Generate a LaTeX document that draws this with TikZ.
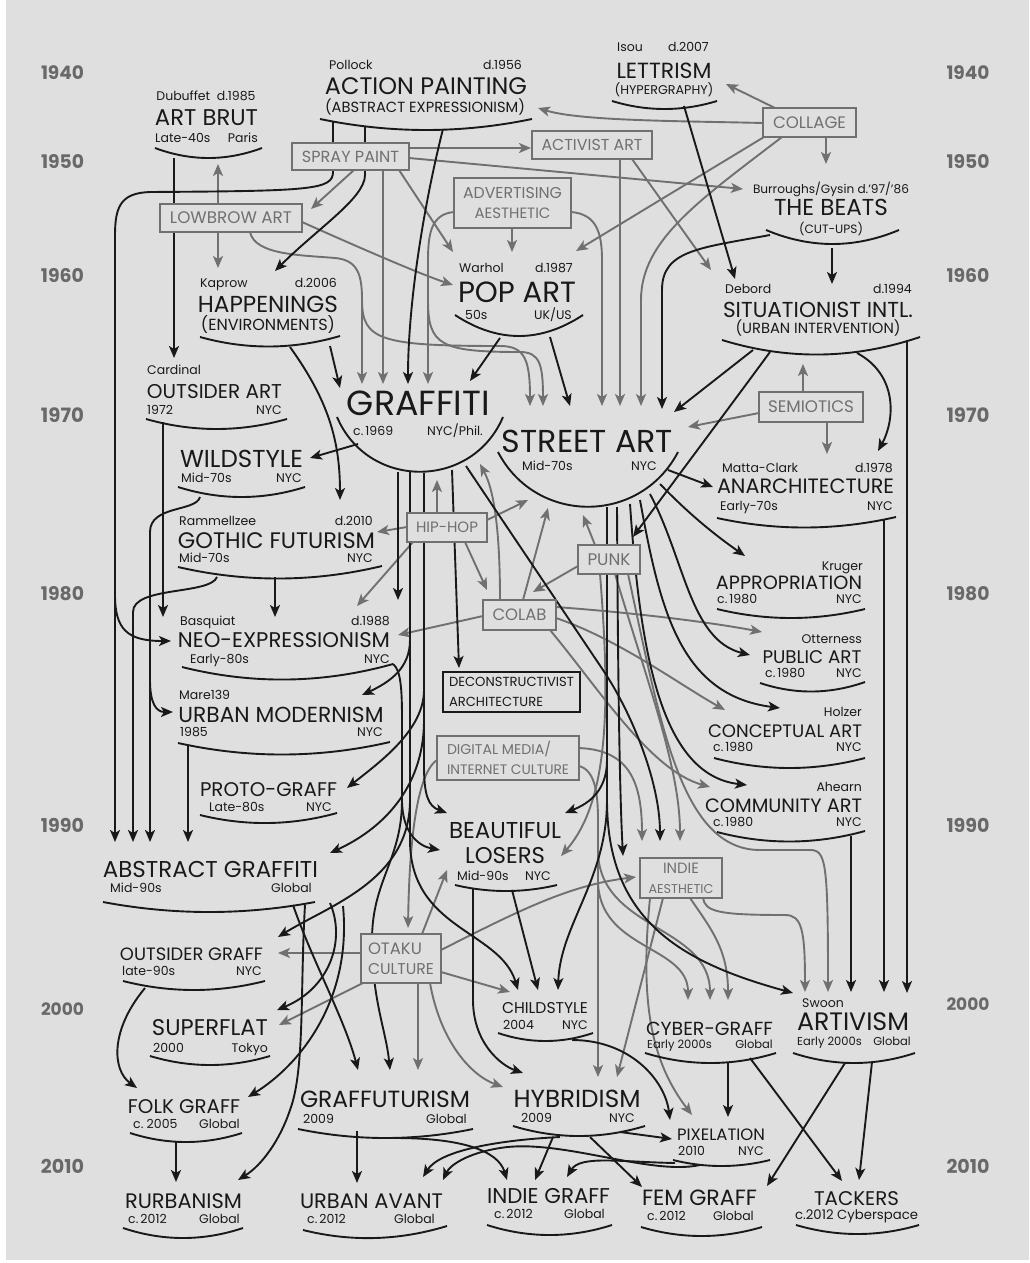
\documentclass[tikz,border=0pt]{standalone}
\usepackage{fontspec}
\setmainfont{Poppins}
\usepackage{graphicx}
\usetikzlibrary{arrows.meta}
\definecolor{bg}{RGB}{223,223,223}
\definecolor{gr}{RGB}{112,112,112}
\definecolor{ink}{RGB}{25,25,25}
\definecolor{yr}{RGB}{105,105,105}
\tikzset{
  bk/.style={draw=ink,line width=1.9pt,-{Stealth[length=12pt,width=10pt,inset=3pt]}},
  gy/.style={draw=gr,line width=1.9pt,-{Stealth[length=12pt,width=10pt,inset=3pt]}},
  arcst/.style={draw=ink,line width=1.9pt},
  smst/.style={font=\fontsize{12.5}{14}\selectfont,text=ink,inner sep=0pt},
  smsm/.style={font=\fontsize{11.5}{13}\selectfont,text=ink,inner sep=0pt},
  ttlst/.style={text=ink,inner sep=0pt,anchor=base},
  yrst/.style={text=yr,inner sep=0pt,anchor=base,font=\bfseries},
  gbox/.style={draw=gr,line width=1.9pt,fill=bg,text=gr,inner sep=0pt,font=\fontsize{10}{20}\selectfont},
  kbox/.style={draw=ink,line width=1.9pt,fill=bg,text=ink,inner sep=0pt,font=\fontsize{10}{20}\selectfont}
}
\newcommand\ttlN[5]{\node[ttlst] (#1) at (#2,#3) {\resizebox{#4pt}{!}{#5}};}
\newcommand\txL[4]{\node[smst,anchor=base west] (#1) at (#2,#3) {#4};}
\newcommand\txR[4]{\node[smst,anchor=base east] (#1) at (#2,#3) {#4};}
\newcommand\txC[4]{\node[smst,anchor=base] (#1) at (#2,#3) {#4};}
\newcommand\txS[5]{\node[smst,anchor=base] (#1) at (#2,#3) {\resizebox{#4pt}{!}{#5}};}
\newcommand\arcN[5]{\draw[arcst] (#1,#2) .. controls ({#1+(#3-#1)/3},{#2+(#4-#2)/3+4*#5/3}) and ({#1+2*(#3-#1)/3},{#2+2*(#4-#2)/3+4*#5/3}) .. (#3,#4);}
\begin{document}
\begin{tikzpicture}[x=1pt,y=-1pt]
\useasboundingbox (0,0) rectangle (1029,1263);
\fill[white] (0,0) rectangle (1029,1263);
\fill[bg] (6,0) rectangle (1029,1260);

% ---------------- years
\node[yrst] (yl1) at (62.5,79) {\resizebox{43pt}{!}{1940}};
\node[yrst] (yl2) at (62.5,168) {\resizebox{43pt}{!}{1950}};
\node[yrst] (yl3) at (62.5,282) {\resizebox{43pt}{!}{1960}};
\node[yrst] (yl4) at (62.5,422) {\resizebox{43pt}{!}{1970}};
\node[yrst] (yl5) at (62.5,600) {\resizebox{43pt}{!}{1980}};
\node[yrst] (yl6) at (62.5,832) {\resizebox{43pt}{!}{1990}};
\node[yrst] (yl7) at (62.5,1015) {\resizebox{43pt}{!}{2000}};
\node[yrst] (yl8) at (62.5,1173) {\resizebox{43pt}{!}{2010}};
\node[yrst] (yr1) at (968,79) {\resizebox{43pt}{!}{1940}};
\node[yrst] (yr2) at (968,168) {\resizebox{43pt}{!}{1950}};
\node[yrst] (yr3) at (968,282) {\resizebox{43pt}{!}{1960}};
\node[yrst] (yr4) at (968,422) {\resizebox{43pt}{!}{1970}};
\node[yrst] (yr5) at (968,600) {\resizebox{43pt}{!}{1980}};
\node[yrst] (yr6) at (968,832) {\resizebox{43pt}{!}{1990}};
\node[yrst] (yr7) at (968,1010) {\resizebox{43pt}{!}{2000}};
\node[yrst] (yr8) at (968,1173) {\resizebox{43pt}{!}{2010}};

% ---------------- gray connectors
\draw[gy] (775,108) -- (726,84);
\draw[gy] (763,123) .. controls (680,121) and (580,121) .. (538,108);
\draw[gy] (826,137) -- (826,164);
\draw[gy] (764,137) -- (576,251);
\draw[gy] (782,137) .. controls (700,200) and (641,240) .. (641,300) -- (641,406);
\draw[gy] (409,148) -- (531,148);
\draw[gy] (409,158) -- (743,189);
\draw[gy] (354,170) -- (311,209);
\draw[gy] (399,170) -- (453,252);
\draw[gy] (383,170) -- (383,384);
\draw[gy] (218,204) -- (218,164);
\draw[gy] (218,232) -- (218,268);
\draw[gy] (302,222) .. controls (360,248) and (420,274) .. (453,285);
\draw[gy] (250,232) .. controls (255,255) and (300,255) .. (335,258) .. controls (358,260) and (362,275) .. (362,300) -- (362,384);
\draw[gy] (362,300) .. controls (362,340) and (380,346) .. (500,346) .. controls (525,346) and (530,360) .. (530,406);
\draw[gy] (512,228) -- (512,252);
\draw[gy] (454,212) .. controls (432,214) and (428,232) .. (428,260) -- (428,384);
\draw[gy] (428,300) .. controls (428,345) and (440,352) .. (520,352) .. controls (540,352) and (543,365) .. (543,406);
\draw[gy] (571,212) .. controls (596,214) and (602,232) .. (602,260) -- (602,406);
\draw[gy] (620,159) -- (620,406);
\draw[gy] (632,159) -- (711,270);
\draw[gy] (803,392) -- (803,364);
\draw[gy] (827,422) -- (827,454);
\draw[gy] (759,413) -- (688,427);
\draw[gy] (437,513) -- (437,480);
\draw[gy] (487,520) -- (528,500);
\draw[gy] (407,527) -- (377,532);
\draw[gy] (413,542) -- (357,606);
\draw[gy] (465,542) -- (487,590);
\draw[gy] (500,600) .. controls (500,530) and (494,490) .. (480,464);
\draw[gy] (523,600) -- (548,508);
\draw[gy] (578,566) -- (533,592);
\draw[gy] (595,545) -- (583,515);
\draw[gy] (483,616) -- (398,635);
\draw[gy] (556,607) .. controls (650,614) and (720,624) .. (762,632);
\draw[gy] (556,618) .. controls (620,640) and (680,685) .. (725,710);
\draw[gy] (550,630) .. controls (600,690) and (650,770) .. (710,787);
\draw[gy] (437,760) .. controls (425,768) and (410,800) .. (408,928);
\draw[gy] (579,748) .. controls (628,750) and (642,780) .. (642,841);
\draw[gy] (579,766) .. controls (594,770) and (598,790) .. (598,820) -- (598,1077);
\draw[gy] (598,880) .. controls (598,950) and (688,945) .. (688,1000);
\draw[gy] (598,850) .. controls (598,930) and (710,925) .. (710,1000);
\draw[gy] (600,574) .. controls (610,700) and (610,800) .. (561,856);
\draw[gy] (615,574) .. controls (650,690) and (680,770) .. (680,841);
\draw[gy] (628,574) .. controls (660,720) and (680,850) .. (760,850) -- (810,850) .. controls (826,850) and (828,862) .. (828,992);
\draw[gy] (361,953) -- (278,953);
\draw[gy] (363,983) -- (279,1025);
\draw[gy] (418,983) -- (418,1070);
\draw[gy] (430,983) .. controls (440,1040) and (470,1075) .. (503,1087);
\draw[gy] (441,972) -- (510,992);
\draw[gy] (422,934) -- (447,870);
\draw[gy] (441,950) .. controls (520,910) and (570,885) .. (636,877);
\draw[gy] (663,898) -- (617,1077);
\draw[gy] (690,898) .. controls (712,930) and (728,950) .. (728,1000);
\draw[gy] (703,898) .. controls (705,912) and (720,915) .. (785,915) .. controls (802,915) and (805,930) .. (805,992);
\draw[gy] (650,898) .. controls (640,1000) and (650,1060) .. (692,1115);

% ---------------- black connectors
\draw[bk] (174,158) -- (174,358);
\draw[bk] (333,122) -- (333,172) .. controls (333,190) and (310,191) .. (150,192) .. controls (122,193) and (115,205) .. (115,235) -- (115,595) .. controls (115,630) and (128,641) .. (171,641);
\draw[bk] (115,590) -- (115,842);
\draw[bk] (365,127) -- (365,175) .. controls (365,198) and (318,228) .. (275,271);
\draw[bk] (443,129) .. controls (425,200) and (408,300) .. (408,384);
\draw[bk] (684,106) -- (735,279);
\draw[bk] (832,248) -- (832,284);
\draw[bk] (770,235) .. controls (700,248) and (662,250) .. (662,290) -- (662,409);
\draw[bk] (500,338) -- (470,381);
\draw[bk] (550,337) -- (570,406);
\draw[bk] (330,346) -- (340,388);
\draw[bk] (290,347) .. controls (328,400) and (340,440) .. (340,500);
\draw[bk] (753,350) -- (674,412);
\draw[bk] (770,352) .. controls (720,420) and (660,500) .. (633,537);
\draw[bk] (857,353) .. controls (898,375) and (895,420) .. (878,451);
\draw[bk] (907,340) -- (907,993);
\draw[bk] (358,444) -- (310,458);
\draw[bk] (163,422) -- (163,617);
\draw[bk] (200,497) .. controls (196,512) and (150,505) .. (150,532) -- (150,842);
\draw[bk] (150,680) .. controls (150,703) and (156,712) .. (173,712);
\draw[bk] (217,577) .. controls (210,595) and (133,586) .. (133,612) -- (133,842);
\draw[bk] (275,577) -- (275,617);
\draw[bk] (188,746) -- (188,842);
\draw[bk] (398,472) -- (398,600);
\draw[bk] (452,470) -- (459,668);
\draw[bk] (410,472) -- (410,640) .. controls (410,668) and (390,682) .. (362,695);
\draw[bk] (410,640) -- (410,800) .. controls (410,880) and (330,905) .. (278,937);
\draw[bk] (410,800) -- (410,840) .. controls (410,930) and (500,930) .. (518,990);
\draw[bk] (424,473) -- (424,690) .. controls (424,730) and (380,762) .. (347,788);
\draw[bk] (424,690) -- (424,720) .. controls (424,790) and (380,830) .. (330,853);
\draw[bk] (424,720) -- (424,765) .. controls (424,795) and (428,806) .. (447,813);
\draw[bk] (393,664) .. controls (401,670) and (402,690) .. (402,720) -- (402,800) .. controls (402,832) and (418,846) .. (440,850);
\draw[bk] (402,800) .. controls (402,860) and (372,880) .. (372,940) .. controls (372,1000) and (386,1030) .. (390,1070);
\draw[bk] (512,890) -- (538,990);
\draw[bk] (473,889) -- (473,1000) .. controls (473,1042) and (500,1065) .. (523,1073);
\draw[bk] (607,507) -- (607,760) .. controls (607,790) and (590,803) .. (565,813);
\draw[bk] (607,760) -- (607,800) .. controls (607,880) and (560,925) .. (558,990);
\draw[bk] (607,800) .. controls (607,920) and (680,962) .. (793,993);
\draw[bk] (466,466) -- (603,670) .. controls (630,710) and (660,780) .. (660,841);
\draw[bk] (617,507) .. controls (618,700) and (620,800) .. (623,856);
\draw[bk] (668,470) -- (713,487);
\draw[bk] (660,484) .. controls (690,515) and (715,535) .. (745,556);
\draw[bk] (650,494) .. controls (685,560) and (690,640) .. (750,655);
\draw[bk] (640,500) .. controls (660,610) and (680,695) .. (780,708);
\draw[bk] (630,504) .. controls (640,650) and (660,775) .. (747,785);
\draw[bk] (293,905) .. controls (312,960) and (345,1020) .. (358,1070);
\draw[bk] (330,903) .. controls (346,940) and (330,988) .. (277,1010);
\draw[bk] (343,906) .. controls (352,1000) and (300,1065) .. (248,1097);
\draw[bk] (305,905) .. controls (300,990) and (305,1070) .. (290,1110) .. controls (280,1140) and (262,1165) .. (238,1180);
\draw[bk] (145,988) .. controls (110,1030) and (112,1070) .. (137,1088);
\draw[bk] (176,1141) -- (176,1182);
\draw[bk] (357,1131) -- (357,1183);
\draw[bk] (395,1138) .. controls (460,1138) and (498,1150) .. (507,1180);
\draw[bk] (560,1137) .. controls (500,1140) and (440,1150) .. (423,1177);
\draw[bk] (700,1165) .. controls (650,1176) and (560,1138) .. (500,1148) .. controls (468,1153) and (450,1165) .. (443,1180);
\draw[bk] (553,1137) -- (535,1180);
\draw[bk] (675,1163) .. controls (620,1162) and (580,1155) .. (567,1177);
\draw[bk] (620,1132) -- (672,1139);
\draw[bk] (590,1137) -- (642,1187);
\draw[bk] (572,1040) .. controls (630,1040) and (665,1080) .. (670,1120);
\draw[bk] (728,1063) -- (728,1117);
\draw[bk] (750,1058) -- (842,1181);
\draw[bk] (845,1063) -- (767,1186);
\draw[bk] (872,1062) -- (859,1180);
\draw[bk] (851,836) -- (851,992);
\draw[bk] (884,520) -- (884,992);

% ---------------- movements
\txC{artbrutA}{206}{100}{Dubuffet\ \ d.1985}
\ttlN{artbrut}{206.5}{125}{103}{ART BRUT}
\txL{artbrutC}{155}{142}{Late-40s}
\txR{artbrutD}{258}{142}{Paris}
\arcN{155}{148}{262}{148}{10}

\txL{actionA}{329}{70}{Pollock}
\txR{actionB}{522}{70}{d.1956}
\ttlN{action}{426}{95}{202}{ACTION PAINTING}
\txS{actionC}{425}{112}{200}{(ABSTRACT EXPRESSIONISM)}
\arcN{320}{119}{532}{119}{11}

\txL{lettA}{617}{52}{Isou}
\txR{lettB}{709}{52}{d.2007}
\ttlN{lett}{664}{78}{95}{LETTRISM}
\txS{lettC}{664}{95}{99}{(HYPERGRAPHY)}
\arcN{612}{101}{717}{101}{8}

\txS{beatsA}{831}{193}{156}{Burroughs/Gysin d.’97/’86}
\ttlN{beats}{831}{215}{114}{THE BEATS}
\txS{beatsC}{831}{233}{64}{(CUT-UPS)}
\arcN{766}{230}{899}{230}{14}

\txL{popA}{459}{272}{Warhol}
\txR{popB}{573}{272}{d.1987}
\ttlN{pop}{517}{302}{118}{POP ART}
\txL{popC}{465}{319}{50s}
\txR{popD}{572}{319}{UK/US}
\arcN{455}{315}{583}{315}{21}

\txL{happA}{200}{287}{Kaprow}
\txR{happB}{337}{287}{d.2006}
\ttlN{happ}{268}{312}{140}{HAPPENINGS}
\txS{happC}{268}{330}{134}{(ENVIRONMENTS)}
\arcN{200}{337}{340}{336}{10}

\txL{sitA}{725}{293}{Debord}
\txR{sitB}{912}{293}{d.1994}
\ttlN{sit}{818}{317}{190}{SITUATIONIST INTL.}
\txS{sitC}{818}{333}{165}{(URBAN INTERVENTION)}
\arcN{722}{340}{920}{337}{16}

\txL{outA}{147}{374}{Cardinal}
\ttlN{out}{214.5}{398}{135}{OUTSIDER ART}
\txL{outC}{147}{414}{1972}
\txR{outD}{282}{414}{NYC}
\arcN{146}{419}{287}{419}{10}

\ttlN{graf}{418.5}{415}{143}{GRAFFITI}
\txL{grafC}{353}{435}{c.\,1969}
\txR{grafD}{483}{435}{NYC/Phil.}
\draw[arcst] (337,417) .. controls (368,490) and (472,490) .. (503,417);

\ttlN{street}{587.5}{452}{171}{STREET ART}
\txL{streetC}{522}{470}{Mid-70s}
\txR{streetD}{657}{470}{NYC}
\draw[arcst] (498,452) .. controls (536,525) and (640,525) .. (678,452);

\txL{anA}{722}{472}{Matta-Clark}
\txR{anB}{893}{472}{d.1978}
\ttlN{an}{805.5}{493}{177}{ANARCHITECTURE}
\txL{anC}{720}{510}{Early-70s}
\txR{anD}{893}{510}{NYC}
\arcN{717}{518}{896}{517}{10}

\ttlN{wild}{241.5}{467}{123}{WILDSTYLE}
\txL{wildC}{181}{482}{Mid-70s}
\txR{wildD}{302}{482}{NYC}
\arcN{178}{487}{305}{487}{10}

\txL{gothA}{179}{525}{Rammellzee}
\txR{gothB}{373}{525}{d.2010}
\ttlN{goth}{276.5}{548}{197}{GOTHIC FUTURISM}
\txL{gothC}{179}{562}{Mid-70s}
\txR{gothD}{373}{562}{NYC}
\arcN{178}{567}{382}{566}{12}

\txR{appA}{863}{570}{Kruger}
\ttlN{app}{789}{589}{146}{APPROPRIATION}
\txL{appC}{717}{603}{c.\,1980}
\txR{appD}{862}{603}{NYC}
\arcN{717}{609}{865}{609}{9}

\txL{neoA}{180}{625}{Basquiat}
\txR{neoB}{390}{625}{d.1988}
\ttlN{neo}{284}{647}{212}{NEO-EXPRESSIONISM}
\txL{neoC}{190}{663}{Early-80s}
\txR{neoD}{390}{663}{NYC}
\arcN{182}{667}{393}{664}{14}

\txR{pubA}{862}{643}{Otterness}
\ttlN{pub}{812}{663}{99}{PUBLIC ART}
\txL{pubC}{765}{677}{c.\,1980}
\txR{pubD}{862}{677}{NYC}
\arcN{760}{683}{865}{682}{9}

\txL{umA}{179}{699}{Mare139}
\ttlN{um}{281}{722}{205}{URBAN MODERNISM}
\txL{umC}{180}{736}{1985}
\txR{umD}{383}{736}{NYC}
\arcN{178}{743}{390}{742}{12}

\txR{conA}{862}{716}{Holzer}
\ttlN{con}{785}{737}{154}{CONCEPTUAL ART}
\txL{conC}{713}{751}{c.\,1980}
\txR{conD}{862}{751}{NYC}
\arcN{714}{758}{865}{758}{10}

\ttlN{proto}{268.5}{796}{137}{PROTO-GRAFF}
\txL{protoC}{209}{811}{Late-80s}
\txR{protoD}{332}{811}{NYC}
\arcN{200}{815}{337}{813}{9}

\txR{comA}{862}{791}{Ahearn}
\ttlN{com}{783.5}{812}{157}{COMMUNITY ART}
\txL{comC}{713}{826}{c.\,1980}
\txR{comD}{862}{826}{NYC}
\arcN{717}{832}{865}{831}{10}

\ttlN{bl}{505}{838}{112}{BEAUTIFUL}
\ttlN{blB}{505}{863}{80}{LOSERS}
\txL{blC}{457}{880}{Mid-90s}
\txR{blD}{551}{880}{NYC}
\arcN{455}{885}{557}{885}{6}

\ttlN{abs}{210.5}{877}{215}{ABSTRACT GRAFFITI}
\txL{absC}{110}{892}{Mid-90s}
\txR{absD}{312}{892}{Global}
\arcN{103}{902}{315}{902}{10}

\ttlN{og}{191.5}{960}{143}{OUTSIDER GRAFF}
\txL{ogC}{122}{975}{late-90s}
\txR{ogD}{262}{975}{NYC}
\arcN{123}{981}{265}{981}{9}

\ttlN{child}{545}{1013}{86}{CHILDSTYLE}
\txL{childC}{503}{1029}{2004}
\txR{childD}{588}{1029}{NYC}
\arcN{498}{1033}{593}{1033}{8}

\ttlN{sf}{210}{1035}{116}{SUPERFLAT}
\txL{sfC}{153}{1052}{2000}
\txR{sfD}{268}{1052}{Tokyo}
\arcN{150}{1056}{270}{1056}{9}

\ttlN{cyber}{709.5}{1035}{127}{CYBER-GRAFF}
\node[smsm,anchor=base west] (cyberC) at (647,1048) {Early 2000s};
\node[smsm,anchor=base east] (cyberD) at (773,1048) {Global};
\arcN{645}{1053}{776}{1053}{10}

\txL{artA}{802}{1007}{Swoon}
\ttlN{art}{853}{1030}{112}{ARTIVISM}
\node[smsm,anchor=base west] (artC) at (797,1045) {Early 2000s};
\node[smsm,anchor=base east] (artD) at (911,1045) {Global};
\arcN{793}{1053}{915}{1053}{10}

\ttlN{folk}{184}{1113}{112}{FOLK GRAFF}
\txL{folkC}{133}{1128}{c.\ 2005}
\txR{folkD}{240}{1128}{Global}
\arcN{130}{1133}{242}{1133}{9}

\ttlN{gfut}{385}{1107}{170}{GRAFFUTURISM}
\txL{gfutC}{303}{1123}{2009}
\txR{gfutD}{467}{1123}{Global}
\arcN{298}{1129}{473}{1129}{9}

\ttlN{hyb}{577}{1107}{127}{HYBRIDISM}
\txL{hybC}{521}{1122}{2009}
\txR{hybD}{635}{1122}{NYC}
\arcN{513}{1126}{645}{1126}{10}

\ttlN{pix}{721}{1140}{88}{PIXELATION}
\txL{pixC}{678}{1155}{2010}
\txR{pixD}{764}{1155}{NYC}
\arcN{673}{1160}{770}{1160}{6}

\ttlN{rurb}{183.5}{1208}{117}{RURBANISM}
\txL{rurbC}{128}{1223}{c.\,2012}
\txR{rurbD}{240}{1223}{Global}
\arcN{123}{1228}{243}{1228}{10}

\ttlN{ua}{371.5}{1208}{143}{URBAN AVANT}
\txL{uaC}{307}{1223}{c.\,2012}
\txR{uaD}{435}{1223}{Global}
\arcN{303}{1230}{447}{1226}{10}

\ttlN{ig}{548.5}{1203}{123}{INDIE GRAFF}
\txL{igC}{494}{1218}{c.\,2012}
\txR{igD}{605}{1218}{Global}
\arcN{487}{1225}{612}{1225}{10}

\ttlN{fem}{699.5}{1205}{115}{FEM GRAFF}
\txL{femC}{647}{1220}{c.\,2012}
\txR{femD}{754}{1220}{Global}
\arcN{641}{1227}{762}{1227}{9}

\ttlN{tack}{856.5}{1205}{85}{TACKERS}
\txS{tackC}{856.5}{1219}{123}{c.2012 Cyberspace}
\arcN{796}{1225}{919}{1225}{9}

% ---------------- boxes
\node[gbox,minimum width=93pt,minimum height=29pt] (collage) at (809.5,122.5) {\resizebox{73pt}{!}{COLLAGE}};
\node[gbox,minimum width=117pt,minimum height=27pt] (spray) at (350.5,156.5) {\resizebox{97pt}{!}{SPRAY PAINT}};
\node[gbox,minimum width=120pt,minimum height=28pt] (activist) at (592,145) {\resizebox{101pt}{!}{ACTIVIST ART}};
\node[gbox,minimum width=117pt,minimum height=50pt,align=center] (adv) at (512.5,203) {\resizebox{99pt}{!}{ADVERTISING}\\\resizebox{76pt}{!}{AESTHETIC}};
\node[gbox,minimum width=142pt,minimum height=28pt] (lowbrow) at (231,218) {\resizebox{122pt}{!}{LOWBROW ART}};
\node[gbox,minimum width=104pt,minimum height=30pt] (semio) at (811,407) {\resizebox{86pt}{!}{SEMIOTICS}};
\node[gbox,minimum width=80pt,minimum height=29pt] (hiphop) at (447,527.5) {\resizebox{62pt}{!}{HIP-HOP}};
\node[gbox,minimum width=62pt,minimum height=29pt] (punk) at (609,559.5) {\resizebox{43pt}{!}{PUNK}};
\node[gbox,minimum width=73pt,minimum height=30pt] (colab) at (519.5,615) {\resizebox{54pt}{!}{COLAB}};
\node[gbox,minimum width=142pt,minimum height=44pt,align=left] (digital) at (508,758) {\resizebox{104pt}{!}{DIGITAL MEDIA/}\\\resizebox{122pt}{!}{INTERNET CULTURE}};
\node[gbox,minimum width=82pt,minimum height=40pt,align=center] (indie) at (681,878) {\resizebox{36pt}{!}{INDIE}\\\resizebox{65pt}{!}{AESTHETIC}};
\node[gbox,minimum width=80pt,minimum height=49pt,align=left] (otaku) at (401,958.5) {\resizebox{54pt}{!}{OTAKU}\\\resizebox{66pt}{!}{CULTURE}};
\node[kbox,minimum width=137pt,minimum height=40pt,align=left] (decon) at (511.5,692) {\resizebox{125pt}{!}{DECONSTRUCTIVIST}\\\resizebox{94pt}{!}{ARCHITECTURE}};
\end{tikzpicture}
\end{document}
